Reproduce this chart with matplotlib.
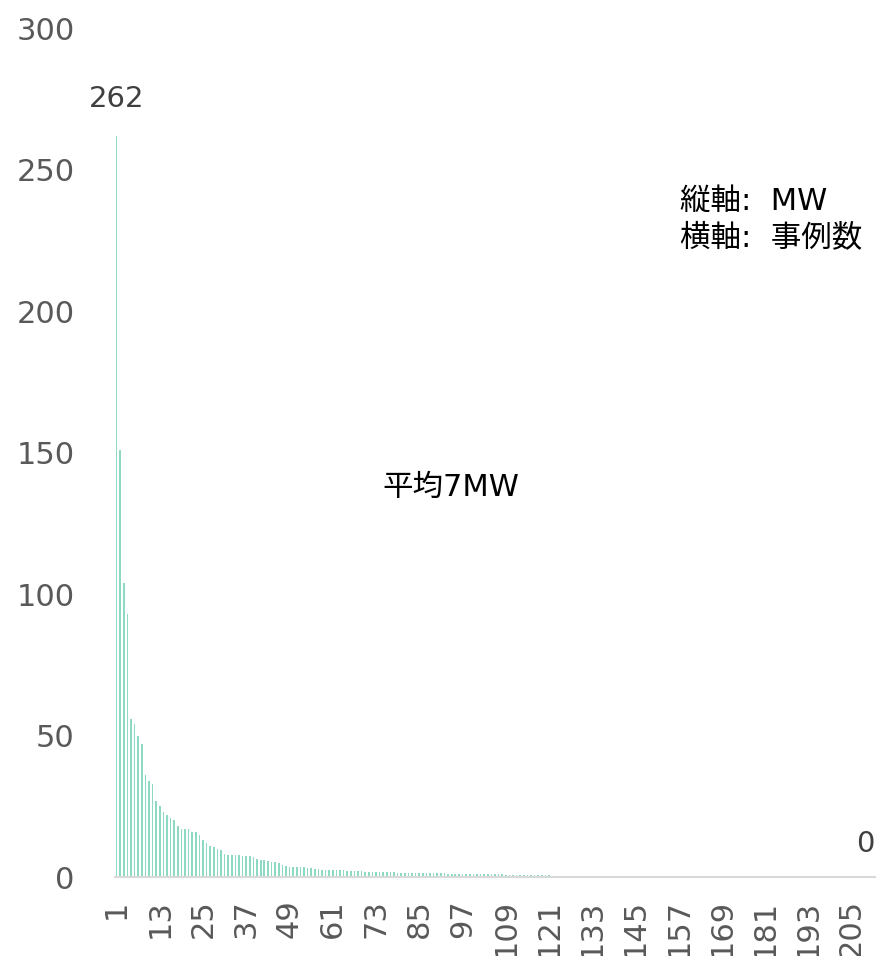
import matplotlib
matplotlib.use("Agg")
import matplotlib.pyplot as plt

plt.rcParams['font.family'] = ['DejaVu Sans', 'Noto Sans CJK JP']

# MW per case, sorted descending
values = [
    262, 151, 104, 93, 56, 54, 50, 47, 36, 34, 33, 27, 25, 23, 22, 21, 20, 18, 17, 17, 17, 16, 16, 15,
    13, 12, 11, 10.6, 10, 9.6, 8, 7.9, 7.9, 7.8, 7.8, 7.6, 7.4, 7.3, 7.1, 6.2, 6.1, 5.9, 5.6, 5.3, 5.2, 5.0, 4.3, 4.0,
    3.6, 3.6, 3.5, 3.4, 3.4, 3.2, 3.2, 3.0, 2.9, 2.6, 2.6, 2.5, 2.5, 2.5, 2.4, 2.4, 2.3, 2.3, 2.2, 2.2,
    2.0, 1.9, 1.9, 1.9, 1.9, 1.8, 1.8, 1.8, 1.8, 1.7,
    1.6, 1.6, 1.5, 1.5, 1.5, 1.5, 1.4, 1.4, 1.4, 1.4, 1.3, 1.3, 1.3, 1.3, 1.2, 1.2, 1.2, 1.2, 1.1, 1.1,
    1.1, 1.1, 1.0, 1.0, 1.0, 1.0, 0.9, 0.9,
    0.9, 0.9, 0.8, 0.8, 0.8, 0.8, 0.7, 0.7, 0.7, 0.7, 0.6, 0.6, 0.6, 0.6, 0.6, 0.5, 0.5, 0.5, 0.5, 0.5,
    0.5, 0.5, 0.4, 0.4, 0.4, 0.4, 0.4, 0.4,
    0.4, 0.35, 0.35, 0.35, 0.3, 0.3, 0.3, 0.3, 0.3, 0.25, 0.25,
    0.1, 0.1, 0.1, 0.1, 0.1, 0.1, 0.1, 0.1, 0.1, 0.1, 0.1, 0.1, 0.1, 0.1, 0.1,
    0, 0, 0, 0, 0, 0, 0, 0, 0, 0, 0, 0, 0, 0, 0, 0, 0, 0, 0, 0, 0, 0, 0, 0, 0, 0,
    0, 0, 0, 0, 0, 0, 0, 0, 0, 0, 0, 0, 0, 0, 0, 0, 0, 0, 0, 0, 0, 0, 0, 0, 0,
]
cases = list(range(1, len(values) + 1))
tick_cases = cases[::12]
y_ticks = [0, 50, 100, 150, 200, 250, 300]

fig = plt.figure(figsize=(8.76, 9.56), dpi=100)
ax = fig.add_axes([0.131, 0.0826, 0.868, 0.888])

x = [c - 1 for c in cases]
ax.bar(x, values, width=0.45, color='#8dd9c3', linewidth=0)

ax.set_xlim(-0.5, len(values) - 0.5)
ax.set_ylim(0, 300)
ax.set_yticks(y_ticks)
ax.set_xticks([c - 1 for c in tick_cases])
ax.set_xticklabels([str(c) for c in tick_cases], rotation=90, va='top')
ax.tick_params(axis='y', length=0, pad=29, labelsize=22, labelcolor='#595959')
ax.tick_params(axis='x', length=0, pad=16, labelsize=22, labelcolor='#595959')

for s in ['top', 'right', 'left']:
    ax.spines[s].set_visible(False)
ax.spines['bottom'].set_color('#d9d9d9')
ax.spines['bottom'].set_linewidth(1.5)

# data labels on first and last bar
ax.annotate(str(values[0]), (0, values[0]), xytext=(0, 16), textcoords='offset points',
            ha='center', va='bottom', fontsize=21, color='#404040')
ax.annotate(str(values[-1]), (len(values) - 1, values[-1]), xytext=(-6, 14), textcoords='offset points',
            ha='center', va='bottom', fontsize=21, color='#404040')

fig.text(0.515, 0.4906, '平均7MW', ha='center', va='center', fontsize=22, color='black')
fig.text(0.776, 0.77, '縦軸:  MW\n横軸:  事例数', ha='left', va='center', fontsize=22,
         color='black', linespacing=1.3)

fig.savefig('out.png', dpi=100)
